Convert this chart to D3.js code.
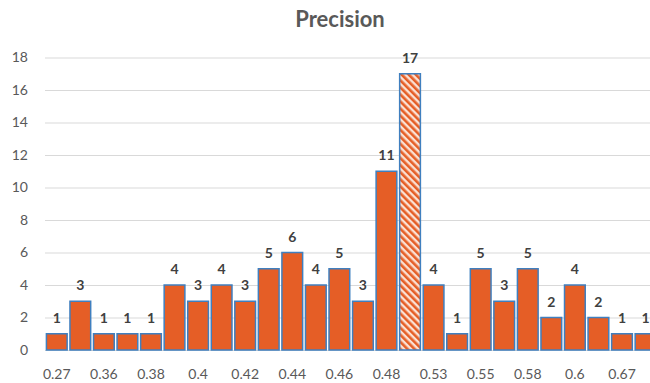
<!DOCTYPE html>
<html>
<head>
<meta charset="utf-8">
<script src="https://cdn.jsdelivr.net/npm/d3@7/dist/d3.min.js"></script>
<style>
  html, body { margin: 0; padding: 0; background: #fff; }
  svg { display: block; }
  text { font-family: Lato, "Open Sans", sans-serif; }
</style>
</head>
<body>
<svg id="chart" width="650" height="383"></svg>
<script>
// Precision bins (category axis) and the count in each bin
const categories = ["0.27","0.35","0.36","0.37","0.38","0.39","0.4","0.41","0.42","0.43",
                    "0.44","0.45","0.46","0.47","0.48","0.5","0.53","0.54","0.55","0.57",
                    "0.58","0.59","0.6","0.62","0.67","0.7"];
const counts = [1,3,1,1,1,4,3,4,3,5,6,4,5,3,11,17,4,1,5,3,5,2,4,2,1,1];
// Only every other bin is labelled on the axis
const shownTicks = ["0.27","0.36","0.38","0.4","0.42","0.44","0.46","0.48","0.53","0.55","0.58","0.6","0.67"];
const highlighted = "0.5";
const yTicks = [0,2,4,6,8,10,12,14,16,18];

const svg = d3.select("#chart");
const fill = "#e55e26";
const edge = "#3f7fbf";
const grey = "#595959";
const font = "Lato, 'Open Sans', sans-serif";

const defs = svg.append("defs");
const pat = defs.append("pattern")
  .attr("id", "hatch")
  .attr("patternUnits", "userSpaceOnUse")
  .attr("width", 5).attr("height", 5)
  .attr("patternTransform", "rotate(-45)");
pat.append("rect").attr("width", 5).attr("height", 5).attr("fill", "#fbe1d4");
pat.append("rect").attr("width", 2.6).attr("height", 5).attr("fill", fill);

const x = d3.scaleBand()
  .domain(categories)
  .range([45, 657.3])
  .paddingInner(0.12)
  .paddingOuter(0.06);

const y = d3.scaleLinear().domain([0, 18]).range([350, 57.5]);

// Title
svg.append("text")
  .attr("x", 340).attr("y", 27)
  .attr("text-anchor", "middle")
  .attr("font-size", 22).attr("font-weight", "bold")
  .attr("fill", grey)
  .text("Precision");

// Gridlines and y labels
const yAxis = d3.axisLeft(y).tickValues(yTicks).tickSize(-(650 - 45)).tickPadding(17);
const gy = svg.append("g").attr("transform", "translate(45,0)").call(yAxis);
gy.select(".domain").remove();
gy.selectAll(".tick line").attr("stroke", "#d9d9d9").attr("stroke-width", 1);
gy.selectAll(".tick text")
  .attr("fill", grey).attr("font-size", 14)
  .style("font-family", font);

// x labels
const xAxis = d3.axisBottom(x).tickValues(shownTicks).tickSize(0).tickPadding(19);
const gx = svg.append("g").attr("transform", "translate(0,350)").call(xAxis);
gx.select(".domain").remove();
gx.selectAll(".tick text")
  .attr("fill", grey).attr("font-size", 14)
  .style("font-family", font);

// Bars
const data = categories.map((c, i) => ({ c, v: counts[i] }));
svg.append("g").selectAll("rect")
  .data(data)
  .join("rect")
  .attr("x", d => x(d.c))
  .attr("y", d => y(d.v))
  .attr("width", x.bandwidth())
  .attr("height", d => y(0) - y(d.v))
  .attr("fill", d => d.c === highlighted ? "url(#hatch)" : fill)
  .attr("stroke", edge)
  .attr("stroke-width", 1.5);

// Value labels
svg.append("g").selectAll("text")
  .data(data)
  .join("text")
  .attr("x", d => x(d.c) + x.bandwidth() / 2)
  .attr("y", d => y(d.v) - 11)
  .attr("text-anchor", "middle")
  .attr("font-size", 14).attr("font-weight", "bold")
  .attr("fill", "#404040")
  .text(d => d.v);
</script>
</body>
</html>
